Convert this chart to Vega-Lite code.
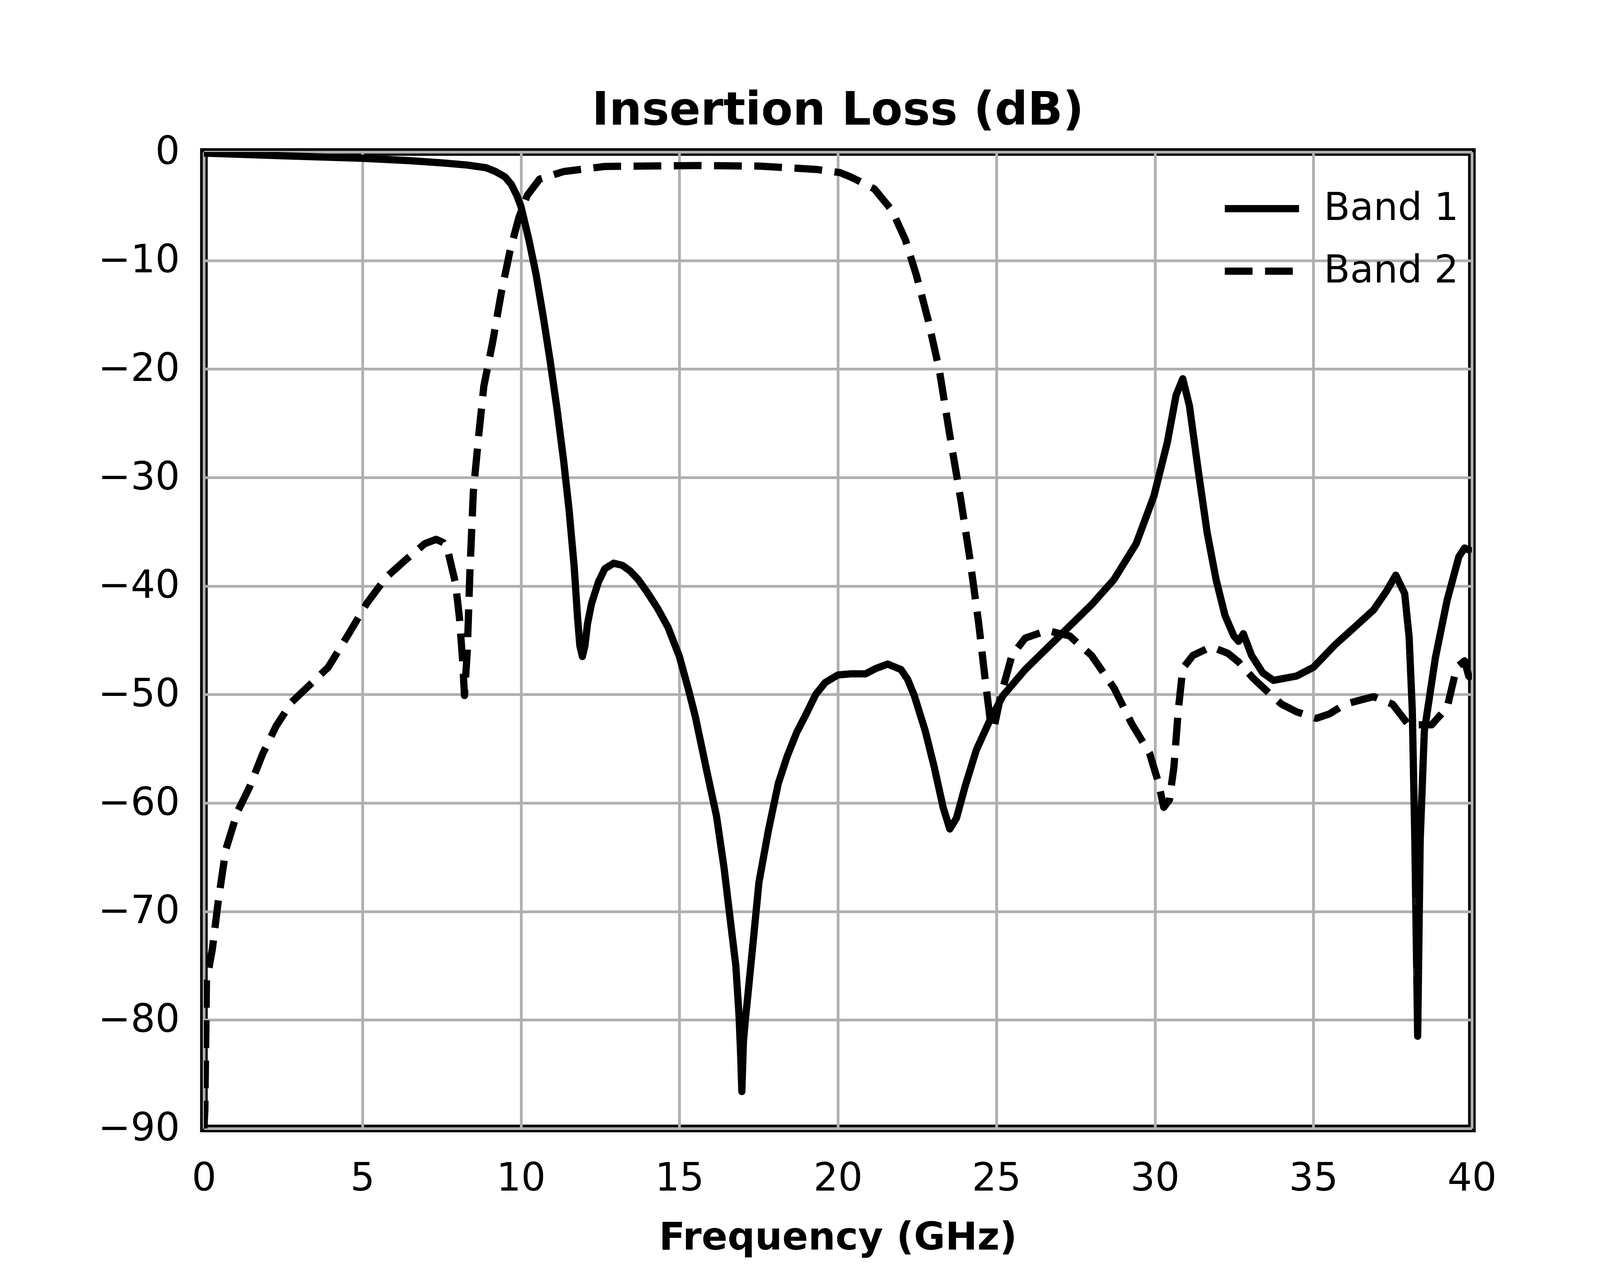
{
  "$schema": "https://vega.github.io/schema/vega-lite/v6.json",
  "description": "Insertion loss of two filter bands versus frequency.",
  "autosize": {"type": "none"},
  "padding": {"left": 522, "top": 389, "right": 417, "bottom": 352},
  "width": 3246,
  "height": 2499,
  "background": "white",
  "title": {
    "text": "Insertion Loss (dB)",
    "font": "DejaVu Sans",
    "fontSize": 118,
    "fontWeight": "bold",
    "color": "black",
    "baseline": "alphabetic",
    "anchor": "middle",
    "offset": -97
  },
  "data": {
    "values": [
      {"band": "Band 1", "f": 0.0, "dB": -0.1},
      {"band": "Band 1", "f": 1.0, "dB": -0.2},
      {"band": "Band 1", "f": 2.5, "dB": -0.35},
      {"band": "Band 1", "f": 5.0, "dB": -0.58},
      {"band": "Band 1", "f": 6.5, "dB": -0.8},
      {"band": "Band 1", "f": 7.5, "dB": -1.0},
      {"band": "Band 1", "f": 8.3, "dB": -1.2},
      {"band": "Band 1", "f": 8.9, "dB": -1.45},
      {"band": "Band 1", "f": 9.2, "dB": -1.8},
      {"band": "Band 1", "f": 9.5, "dB": -2.3},
      {"band": "Band 1", "f": 9.7, "dB": -3.0},
      {"band": "Band 1", "f": 9.87, "dB": -4.0},
      {"band": "Band 1", "f": 10.0, "dB": -5.0},
      {"band": "Band 1", "f": 10.09, "dB": -6.1},
      {"band": "Band 1", "f": 10.26, "dB": -8.2},
      {"band": "Band 1", "f": 10.48, "dB": -11.3},
      {"band": "Band 1", "f": 10.7, "dB": -15.1},
      {"band": "Band 1", "f": 10.92, "dB": -19.2},
      {"band": "Band 1", "f": 11.14, "dB": -23.7},
      {"band": "Band 1", "f": 11.35, "dB": -28.5},
      {"band": "Band 1", "f": 11.52, "dB": -33.0},
      {"band": "Band 1", "f": 11.68, "dB": -38.2},
      {"band": "Band 1", "f": 11.79, "dB": -43.0},
      {"band": "Band 1", "f": 11.86, "dB": -45.5},
      {"band": "Band 1", "f": 11.94, "dB": -46.5},
      {"band": "Band 1", "f": 12.02, "dB": -45.5},
      {"band": "Band 1", "f": 12.1, "dB": -43.5},
      {"band": "Band 1", "f": 12.23, "dB": -41.6},
      {"band": "Band 1", "f": 12.45, "dB": -39.6},
      {"band": "Band 1", "f": 12.65, "dB": -38.4},
      {"band": "Band 1", "f": 12.93, "dB": -37.9},
      {"band": "Band 1", "f": 13.2, "dB": -38.1},
      {"band": "Band 1", "f": 13.44, "dB": -38.6},
      {"band": "Band 1", "f": 13.7, "dB": -39.4},
      {"band": "Band 1", "f": 13.99, "dB": -40.6},
      {"band": "Band 1", "f": 14.3, "dB": -42.0},
      {"band": "Band 1", "f": 14.64, "dB": -43.8},
      {"band": "Band 1", "f": 15.0, "dB": -46.5},
      {"band": "Band 1", "f": 15.3, "dB": -49.7},
      {"band": "Band 1", "f": 15.5, "dB": -52.0},
      {"band": "Band 1", "f": 15.86, "dB": -57.0},
      {"band": "Band 1", "f": 16.17, "dB": -61.2},
      {"band": "Band 1", "f": 16.41, "dB": -66.0},
      {"band": "Band 1", "f": 16.59, "dB": -70.4},
      {"band": "Band 1", "f": 16.78, "dB": -75.0},
      {"band": "Band 1", "f": 16.88, "dB": -79.5},
      {"band": "Band 1", "f": 16.93, "dB": -83.0},
      {"band": "Band 1", "f": 16.97, "dB": -86.6},
      {"band": "Band 1", "f": 17.02, "dB": -82.0},
      {"band": "Band 1", "f": 17.08, "dB": -80.0},
      {"band": "Band 1", "f": 17.14, "dB": -78.3},
      {"band": "Band 1", "f": 17.32, "dB": -73.0},
      {"band": "Band 1", "f": 17.51, "dB": -67.3},
      {"band": "Band 1", "f": 17.81, "dB": -62.5},
      {"band": "Band 1", "f": 18.12, "dB": -58.2},
      {"band": "Band 1", "f": 18.4, "dB": -55.7},
      {"band": "Band 1", "f": 18.7, "dB": -53.5},
      {"band": "Band 1", "f": 19.0, "dB": -51.8},
      {"band": "Band 1", "f": 19.3, "dB": -50.0},
      {"band": "Band 1", "f": 19.6, "dB": -48.9},
      {"band": "Band 1", "f": 20.0, "dB": -48.2},
      {"band": "Band 1", "f": 20.4, "dB": -48.1},
      {"band": "Band 1", "f": 20.87, "dB": -48.1},
      {"band": "Band 1", "f": 21.2, "dB": -47.6},
      {"band": "Band 1", "f": 21.57, "dB": -47.2},
      {"band": "Band 1", "f": 21.99, "dB": -47.7},
      {"band": "Band 1", "f": 22.2, "dB": -48.6},
      {"band": "Band 1", "f": 22.41, "dB": -50.1},
      {"band": "Band 1", "f": 22.76, "dB": -53.4},
      {"band": "Band 1", "f": 23.04, "dB": -56.7},
      {"band": "Band 1", "f": 23.32, "dB": -60.4},
      {"band": "Band 1", "f": 23.53, "dB": -62.4},
      {"band": "Band 1", "f": 23.74, "dB": -61.4},
      {"band": "Band 1", "f": 24.02, "dB": -58.4},
      {"band": "Band 1", "f": 24.37, "dB": -55.1},
      {"band": "Band 1", "f": 24.79, "dB": -52.4},
      {"band": "Band 1", "f": 25.21, "dB": -50.1},
      {"band": "Band 1", "f": 25.91, "dB": -47.7},
      {"band": "Band 1", "f": 26.61, "dB": -45.7},
      {"band": "Band 1", "f": 27.31, "dB": -43.7},
      {"band": "Band 1", "f": 28.01, "dB": -41.7},
      {"band": "Band 1", "f": 28.71, "dB": -39.4},
      {"band": "Band 1", "f": 29.41, "dB": -36.1},
      {"band": "Band 1", "f": 29.97, "dB": -31.7},
      {"band": "Band 1", "f": 30.39, "dB": -26.8},
      {"band": "Band 1", "f": 30.67, "dB": -22.4},
      {"band": "Band 1", "f": 30.88, "dB": -20.9},
      {"band": "Band 1", "f": 31.09, "dB": -23.4},
      {"band": "Band 1", "f": 31.37, "dB": -29.4},
      {"band": "Band 1", "f": 31.65, "dB": -35.1},
      {"band": "Band 1", "f": 31.93, "dB": -39.4},
      {"band": "Band 1", "f": 32.21, "dB": -42.7},
      {"band": "Band 1", "f": 32.49, "dB": -44.6},
      {"band": "Band 1", "f": 32.64, "dB": -45.1},
      {"band": "Band 1", "f": 32.79, "dB": -44.4},
      {"band": "Band 1", "f": 33.05, "dB": -46.4},
      {"band": "Band 1", "f": 33.4, "dB": -48.0},
      {"band": "Band 1", "f": 33.74, "dB": -48.7},
      {"band": "Band 1", "f": 34.47, "dB": -48.3},
      {"band": "Band 1", "f": 35.0, "dB": -47.5},
      {"band": "Band 1", "f": 35.69, "dB": -45.4},
      {"band": "Band 1", "f": 36.3, "dB": -43.8},
      {"band": "Band 1", "f": 36.9, "dB": -42.2},
      {"band": "Band 1", "f": 37.3, "dB": -40.5},
      {"band": "Band 1", "f": 37.6, "dB": -39.0},
      {"band": "Band 1", "f": 37.88, "dB": -40.7},
      {"band": "Band 1", "f": 38.02, "dB": -44.7},
      {"band": "Band 1", "f": 38.12, "dB": -51.4},
      {"band": "Band 1", "f": 38.2, "dB": -63.4},
      {"band": "Band 1", "f": 38.29, "dB": -81.5},
      {"band": "Band 1", "f": 38.37, "dB": -63.4},
      {"band": "Band 1", "f": 38.5, "dB": -53.4},
      {"band": "Band 1", "f": 38.85, "dB": -46.6},
      {"band": "Band 1", "f": 39.22, "dB": -41.3},
      {"band": "Band 1", "f": 39.59, "dB": -37.3},
      {"band": "Band 1", "f": 39.77, "dB": -36.5},
      {"band": "Band 1", "f": 40.0, "dB": -36.8},

      {"band": "Band 2", "f": 0.0, "dB": -90.0},
      {"band": "Band 2", "f": 0.03, "dB": -88.3},
      {"band": "Band 2", "f": 0.08, "dB": -76.5},
      {"band": "Band 2", "f": 0.27, "dB": -73.4},
      {"band": "Band 2", "f": 0.45, "dB": -69.1},
      {"band": "Band 2", "f": 0.69, "dB": -64.3},
      {"band": "Band 2", "f": 1.06, "dB": -60.8},
      {"band": "Band 2", "f": 1.43, "dB": -58.6},
      {"band": "Band 2", "f": 1.85, "dB": -55.5},
      {"band": "Band 2", "f": 2.28, "dB": -52.9},
      {"band": "Band 2", "f": 2.77, "dB": -50.7},
      {"band": "Band 2", "f": 3.31, "dB": -49.2},
      {"band": "Band 2", "f": 3.92, "dB": -47.5},
      {"band": "Band 2", "f": 4.53, "dB": -44.6},
      {"band": "Band 2", "f": 5.14, "dB": -41.6},
      {"band": "Band 2", "f": 5.75, "dB": -39.2},
      {"band": "Band 2", "f": 6.36, "dB": -37.6},
      {"band": "Band 2", "f": 6.97, "dB": -36.1},
      {"band": "Band 2", "f": 7.33, "dB": -35.7},
      {"band": "Band 2", "f": 7.55, "dB": -36.0},
      {"band": "Band 2", "f": 7.7, "dB": -36.8},
      {"band": "Band 2", "f": 7.94, "dB": -39.8},
      {"band": "Band 2", "f": 8.06, "dB": -42.9},
      {"band": "Band 2", "f": 8.16, "dB": -46.8},
      {"band": "Band 2", "f": 8.22, "dB": -50.1},
      {"band": "Band 2", "f": 8.31, "dB": -45.9},
      {"band": "Band 2", "f": 8.39, "dB": -38.8},
      {"band": "Band 2", "f": 8.5, "dB": -31.3},
      {"band": "Band 2", "f": 8.67, "dB": -26.1},
      {"band": "Band 2", "f": 8.83, "dB": -21.6},
      {"band": "Band 2", "f": 9.11, "dB": -17.5},
      {"band": "Band 2", "f": 9.38, "dB": -13.0},
      {"band": "Band 2", "f": 9.65, "dB": -9.2},
      {"band": "Band 2", "f": 9.93, "dB": -6.1},
      {"band": "Band 2", "f": 10.2, "dB": -4.0},
      {"band": "Band 2", "f": 10.59, "dB": -2.5},
      {"band": "Band 2", "f": 11.35, "dB": -1.8},
      {"band": "Band 2", "f": 12.66, "dB": -1.33},
      {"band": "Band 2", "f": 15.5, "dB": -1.25},
      {"band": "Band 2", "f": 17.5, "dB": -1.3},
      {"band": "Band 2", "f": 19.3, "dB": -1.6},
      {"band": "Band 2", "f": 20.07, "dB": -1.9},
      {"band": "Band 2", "f": 20.4, "dB": -2.3},
      {"band": "Band 2", "f": 20.75, "dB": -2.8},
      {"band": "Band 2", "f": 21.15, "dB": -3.4},
      {"band": "Band 2", "f": 21.71, "dB": -5.4},
      {"band": "Band 2", "f": 22.13, "dB": -8.1},
      {"band": "Band 2", "f": 22.48, "dB": -11.4},
      {"band": "Band 2", "f": 22.84, "dB": -15.4},
      {"band": "Band 2", "f": 23.2, "dB": -20.1},
      {"band": "Band 2", "f": 23.53, "dB": -26.1},
      {"band": "Band 2", "f": 23.88, "dB": -32.1},
      {"band": "Band 2", "f": 24.16, "dB": -37.4},
      {"band": "Band 2", "f": 24.44, "dB": -43.4},
      {"band": "Band 2", "f": 24.65, "dB": -48.7},
      {"band": "Band 2", "f": 24.82, "dB": -52.7},
      {"band": "Band 2", "f": 24.93, "dB": -53.0},
      {"band": "Band 2", "f": 25.14, "dB": -50.1},
      {"band": "Band 2", "f": 25.49, "dB": -46.4},
      {"band": "Band 2", "f": 25.91, "dB": -44.8},
      {"band": "Band 2", "f": 26.6, "dB": -44.1},
      {"band": "Band 2", "f": 27.31, "dB": -44.6},
      {"band": "Band 2", "f": 28.0, "dB": -46.4},
      {"band": "Band 2", "f": 28.71, "dB": -49.4},
      {"band": "Band 2", "f": 29.27, "dB": -52.7},
      {"band": "Band 2", "f": 29.83, "dB": -55.4},
      {"band": "Band 2", "f": 30.11, "dB": -58.1},
      {"band": "Band 2", "f": 30.28, "dB": -60.4},
      {"band": "Band 2", "f": 30.46, "dB": -59.7},
      {"band": "Band 2", "f": 30.6, "dB": -56.7},
      {"band": "Band 2", "f": 30.74, "dB": -51.4},
      {"band": "Band 2", "f": 30.88, "dB": -47.6},
      {"band": "Band 2", "f": 31.2, "dB": -46.4},
      {"band": "Band 2", "f": 31.78, "dB": -45.6},
      {"band": "Band 2", "f": 32.3, "dB": -46.2},
      {"band": "Band 2", "f": 32.64, "dB": -47.0},
      {"band": "Band 2", "f": 33.1, "dB": -48.5},
      {"band": "Band 2", "f": 33.61, "dB": -49.9},
      {"band": "Band 2", "f": 34.0, "dB": -50.9},
      {"band": "Band 2", "f": 34.47, "dB": -51.6},
      {"band": "Band 2", "f": 35.09, "dB": -52.2},
      {"band": "Band 2", "f": 35.5, "dB": -51.8},
      {"band": "Band 2", "f": 36.0, "dB": -50.9},
      {"band": "Band 2", "f": 36.5, "dB": -50.5},
      {"band": "Band 2", "f": 36.9, "dB": -50.2},
      {"band": "Band 2", "f": 37.5, "dB": -50.9},
      {"band": "Band 2", "f": 38.0, "dB": -52.8},
      {"band": "Band 2", "f": 38.73, "dB": -52.8},
      {"band": "Band 2", "f": 39.22, "dB": -51.2},
      {"band": "Band 2", "f": 39.52, "dB": -47.5},
      {"band": "Band 2", "f": 39.77, "dB": -46.9},
      {"band": "Band 2", "f": 39.9, "dB": -48.3},
      {"band": "Band 2", "f": 40.0, "dB": -48.6}
    ]
  },
  "mark": {
    "type": "line",
    "color": "black",
    "strokeWidth": 18.5,
    "strokeCap": "butt",
    "strokeJoin": "round",
    "clip": true
  },
  "encoding": {
    "x": {
      "field": "f",
      "type": "quantitative",
      "scale": {"domain": [0, 40], "nice": false, "zero": false},
      "axis": {
        "title": "Frequency (GHz)",
        "values": [0, 5, 10, 15, 20, 25, 30, 35, 40],
        "labelPadding": 80,
        "titleBaseline": "alphabetic",
        "titleY": 309
      }
    },
    "y": {
      "field": "dB",
      "type": "quantitative",
      "scale": {"domain": [-90, 0], "nice": false},
      "axis": {
        "title": null,
        "values": [-90, -80, -70, -60, -50, -40, -30, -20, -10, 0],
        "labelPadding": 62
      }
    },
    "strokeDash": {
      "field": "band",
      "type": "nominal",
      "scale": {"domain": ["Band 1", "Band 2"], "range": [[1, 0], [71, 32]]},
      "legend": {
        "title": null,
        "orient": "none",
        "legendX": 2604,
        "legendY": 65,
        "padding": 0,
        "symbolType": "stroke",
        "symbolSize": 36100,
        "symbolStrokeWidth": 18.5,
        "symbolStrokeColor": "black",
        "labelFont": "DejaVu Sans",
        "labelFontSize": 98,
        "labelColor": "black",
        "labelLimit": 0,
        "labelOffset": 54,
        "clipHeight": 160,
        "rowPadding": 0
      }
    }
  },
  "config": {
    "font": "DejaVu Sans",
    "view": {"stroke": "black", "strokeWidth": 19.5},
    "axis": {
      "domain": false,
      "ticks": false,
      "tickSize": 0,
      "grid": true,
      "gridColor": "#b0b0b0",
      "gridWidth": 7,
      "gridOpacity": 1,
      "labelFont": "DejaVu Sans",
      "labelFontSize": 99,
      "labelColor": "black",
      "labelLimit": 0,
      "labelFlush": false,
      "labelOverlap": false,
      "titleFont": "DejaVu Sans",
      "titleFontSize": 98,
      "titleFontWeight": "bold",
      "titleColor": "black"
    }
  }
}
